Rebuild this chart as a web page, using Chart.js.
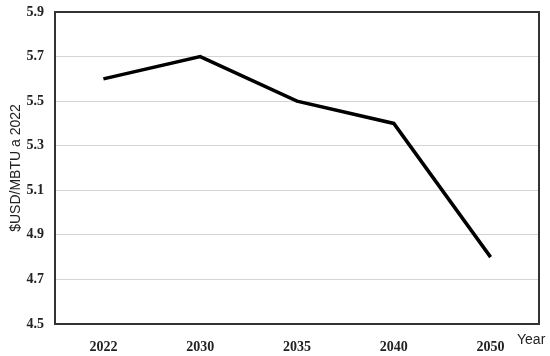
<!DOCTYPE html>
<html>
<head>
<meta charset="utf-8">
<script src="https://cdn.jsdelivr.net/npm/chart.js@4"></script>
<style>
  body { margin: 0; background: #fff; }
  #wrap { width: 550px; height: 356px; }
</style>
</head>
<body>
<div id="wrap"><canvas id="myChart"></canvas></div>
<script>
const years = ['2022', '2030', '2035', '2040', '2050']
const prices = [5.6, 5.7, 5.5, 5.4, 4.8]
const yMin = 4.5
const yMax = 5.9
const yStep = 0.2

// box round the plot area plus the "Year" label at bottom right
const frame = {
    id: 'frame',
    afterDraw(chart) {
        const { ctx, chartArea } = chart
        ctx.save()
        ctx.strokeStyle = '#333'
        ctx.lineWidth = 2
        ctx.strokeRect(chartArea.left, chartArea.top, chartArea.right - chartArea.left, chartArea.bottom - chartArea.top)
        ctx.fillStyle = '#222'
        ctx.font = '14px "Liberation Sans", Arial, sans-serif'
        ctx.textAlign = 'left'
        ctx.textBaseline = 'middle'
        ctx.fillText('Year', 517, 340)
        ctx.restore()
    }
}

let myChart = document.getElementById('myChart').getContext('2d')

new Chart(myChart, {
    type: 'line',
    data: {
        labels: years,
        datasets: [{
            data: prices,
            borderColor: '#000',
            borderWidth: 3.5,
            pointRadius: 0,
            tension: 0,
            fill: false
        }]
    },
    options: {
        responsive: true,
        maintainAspectRatio: false,
        animation: false,
        layout: { padding: { top: 12, right: 11, left: 0, bottom: 0 } },
        plugins: {
            legend: { display: false },
            tooltip: { enabled: false }
        },
        scales: {
            x: {
                offset: true,
                grid: { display: false },
                border: { display: false },
                ticks: {
                    color: '#222',
                    padding: 7,
                    font: { family: '"Liberation Serif", "Times New Roman", serif', size: 14, weight: 'bold' }
                },
                afterFit: (axis) => { axis.height = 32 }
            },
            y: {
                min: yMin,
                max: yMax,
                grid: {
                    color: (c) => (c.tick.value <= yMin + 0.001 || c.tick.value >= yMax - 0.001) ? 'rgba(0,0,0,0)' : '#d4d4d4',
                    lineWidth: 1,
                    drawTicks: false
                },
                border: { display: false },
                ticks: {
                    stepSize: yStep,
                    color: '#222',
                    padding: 11,
                    font: { family: '"Liberation Serif", "Times New Roman", serif', size: 14, weight: 'bold' },
                    callback: (v) => v.toFixed(1)
                },
                title: {
                    display: true,
                    text: '$USD/MBTU a 2022',
                    color: '#222',
                    padding: { top: 8, bottom: 4 },
                    font: { family: '"Liberation Sans", Arial, sans-serif', size: 14 }
                },
                afterFit: (axis) => {
                    axis.width = 55
                    axis.paddingTop = 0
                    axis.paddingBottom = 0
                }
            }
        }
    },
    plugins: [frame]
})
</script>
</body>
</html>
